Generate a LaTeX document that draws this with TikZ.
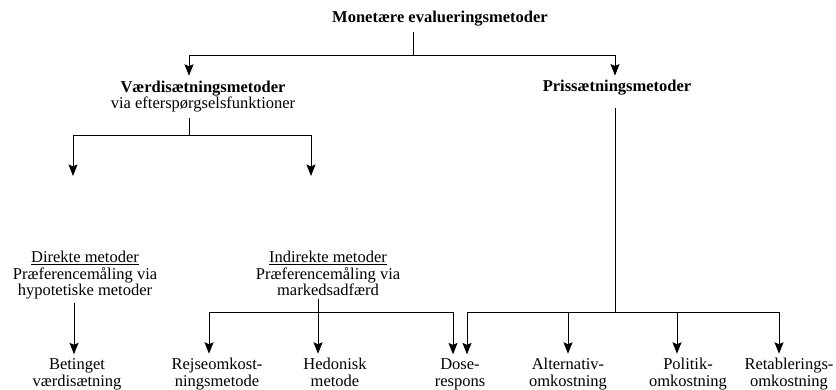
\documentclass[tikz,border=0pt]{standalone}
\usepackage{fontspec}
\setmainfont{Liberation Serif}
\usetikzlibrary{arrows.meta}
\begin{document}
\begin{tikzpicture}[x=1pt,y=1pt,
  txt/.style={inner sep=0pt,outer xsep=0pt,outer ysep=5pt,align=center,anchor=base,
    font=\fontsize{16.5}{16.8}\selectfont},
  conn/.style={line width=0.9pt},
  arr/.style={conn,-{Stealth[length=11.5pt,width=9pt,inset=2pt]}}]
\useasboundingbox (0,0) rectangle (836,-390);
% nodes (base anchor = baseline of the last line)
\node[txt] (title) at (440,-23) {\bfseries Monetære evalueringsmetoder};
\node[txt] (vaerdi) at (203,-109) {\textbf{Værdisætningsmetoder}\\via efterspørgselsfunktioner};
\node[txt] (pris) at (617,-92) {\bfseries Prissætningsmetoder};
\node[txt,outer ysep=3pt] (direkte) at (85,-296) {\underline{Direkte metoder}\\Præferencemåling via\\hypotetiske metoder};
\node[txt,outer ysep=3pt] (indirekte) at (328,-296) {\underline{Indirekte metoder}\\Præferencemåling via\\markedsadfærd};
\node[txt,outer ysep=4pt] (betinget) at (77,-386) {Betinget\\værdisætning};
\node[txt,outer ysep=4pt] (rejse) at (217,-386) {Rejseomkost-\\ningsmetode};
\node[txt,outer ysep=4pt] (hedonisk) at (335,-386) {Hedonisk\\metode};
\node[txt,outer ysep=4pt] (dose) at (460,-386) {Dose-\\respons};
\node[txt,outer ysep=4pt] (alt) at (568,-386) {Alternativ-\\omkostning};
\node[txt,outer ysep=4pt] (pol) at (688,-386) {Politik-\\omkostning};
\node[txt,outer ysep=4pt] (ret) at (789,-386) {Retablerings-\\omkostning};
% junctions and x positions
\coordinate (t1) at (413,-55);
\coordinate (v1) at (189,-135);
\coordinate (p1) at (615,-312);
\coordinate (i1) at (318,-312);
\coordinate (dA) at (73,-176);
\coordinate (iA) at (311,-176);
\coordinate (xV) at (189,0);
\coordinate (xP) at (615,0);
\coordinate (xD) at (74,0);
\coordinate (xR) at (209,0);
\coordinate (xDa) at (453,0);
\coordinate (xDb) at (467,0);
\coordinate (xA) at (568,0);
\coordinate (xPo) at (677,0);
\coordinate (xRe) at (779,0);
% connectors
\draw[conn] (title.south -| t1) -- (t1);
\draw[arr] (t1) -| (vaerdi.north -| xV);
\draw[arr] (t1) -| (pris.north -| xP);
\draw[conn] (vaerdi.south -| v1) -- (v1);
\draw[arr] (v1) -| (dA);
\draw[arr] (v1) -| (iA);
\draw[conn] (pris.south -| p1) ++(0,-7pt) -- (p1);
\draw[arr] (p1) -| (dose.north -| xDb);
\draw[arr] (p1) -| (alt.north -| xA);
\draw[arr] (p1) -| (pol.north -| xPo);
\draw[arr] (p1) -| (ret.north -| xRe);
\draw[arr] (direkte.south -| xD) -- (betinget.north -| xD);
\draw[arr] (indirekte.south -| i1) -- (hedonisk.north -| i1);
\draw[arr] (i1) -| (rejse.north -| xR);
\draw[arr] (i1) -| (dose.north -| xDa);
\end{tikzpicture}
\end{document}
